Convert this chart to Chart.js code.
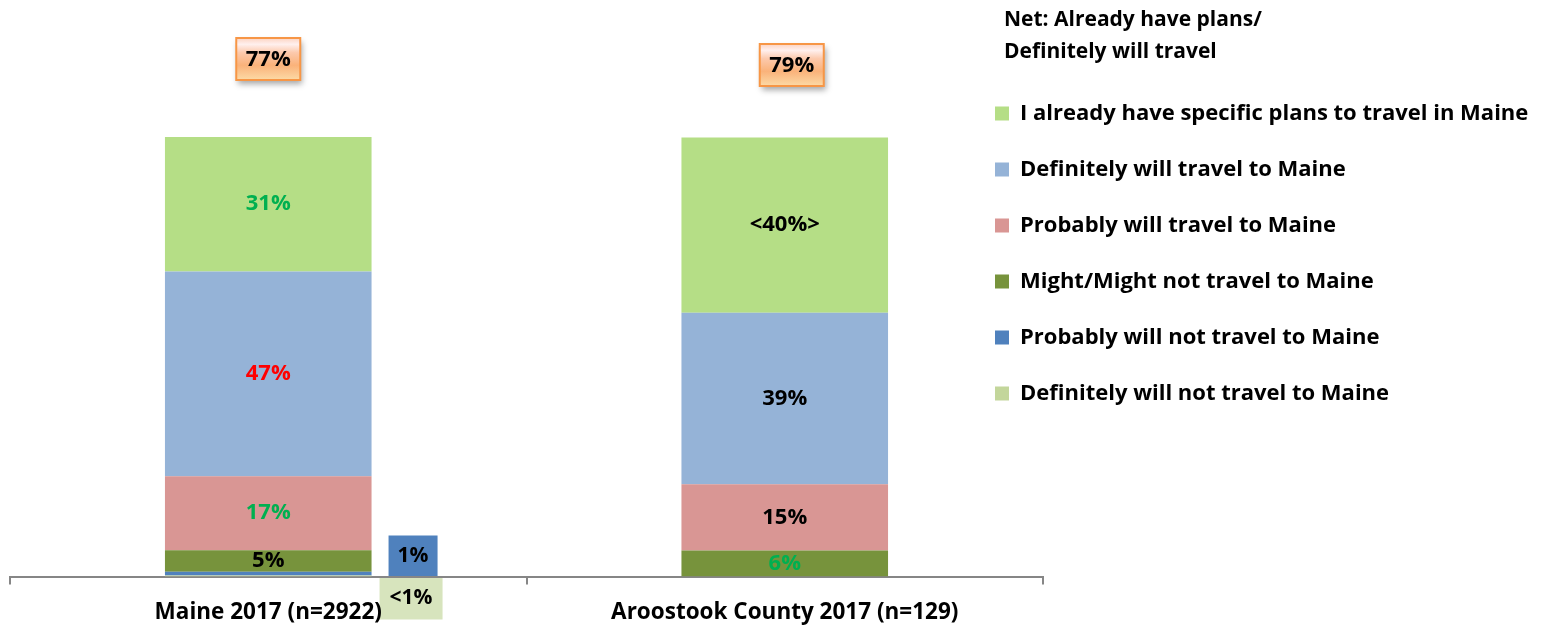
<!DOCTYPE html>
<html>
<head>
<meta charset="utf-8">
<title>Travel to Maine</title>
<script src="https://cdn.jsdelivr.net/npm/chart.js@4"></script>
<style>
html,body{margin:0;padding:0;background:#fff;}
</style>
</head>
<body>
<canvas id="myChart" width="1544" height="625"></canvas>
<script>
// categories and series (stack order bottom -> top)
const categories = ["Maine 2017 (n=2922)", "Aroostook County 2017 (n=129)"];
const netLabels = ["77%", "79%"];
const netTitle = ["Net: Already have plans/", "Definitely will travel"];

const defNotValues   = [0.2, 0];
const probNotValues  = [0.9, 0];
const mightValues    = [4.9, 5.9];
const probValues     = [16.8, 15.1];
const defValues      = [46.6, 39.0];
const alreadyValues  = [30.7, 39.9];

const defNotText   = ["<1%", ""];
const probNotText  = ["1%", ""];
const mightText    = ["5%", "6%"];
const probText     = ["17%", "15%"];
const defText      = ["47%", "39%"];
const alreadyText  = ["31%", "<40%>"];

const GREEN = "#00B050", RED = "#FF0000", BLACK = "#000000";
const FONT = "'Open Sans'";

const datasets = [
	{label: "Definitely will not travel to Maine", data: defNotValues, backgroundColor: "#C3D69B", txt: defNotText, txtColor: [BLACK, BLACK], callout: true},
	{label: "Probably will not travel to Maine", data: probNotValues, backgroundColor: "#4F81BD", txt: probNotText, txtColor: [BLACK, BLACK], callout: true},
	{label: "Might/Might not travel to Maine", data: mightValues, backgroundColor: "#77933C", txt: mightText, txtColor: [BLACK, GREEN]},
	{label: "Probably will travel to Maine", data: probValues, backgroundColor: "#D99694", txt: probText, txtColor: [GREEN, BLACK]},
	{label: "Definitely will travel to Maine", data: defValues, backgroundColor: "#95B3D7", txt: defText, txtColor: [RED, BLACK]},
	{label: "I already have specific plans to travel in Maine", data: alreadyValues, backgroundColor: "#B5DE86", txt: alreadyText, txtColor: [GREEN, BLACK]}
];

// small boxes that sit beside the Maine bar for the tiny segments
const calloutStyle = [
	{fill: "#D7E4BD", dx: 8, w: 63, top: 1, h: 42},
	{fill: "#4F81BD", dx: 17, w: 49, top: -41, h: 41}
];
const netBoxShift = [[0, 0], [7, 6]];

const labelPlugin = {
	id: 'labelPlugin',
	beforeLayout(chart) {
		// keep the legend column at a fixed width so the plot ends where the original does
		const lg = chart.legend;
		if (lg && !lg._fixed) {
			const fit = lg.fit;
			lg.fit = function() { fit.call(this); this.width = 501; };
			lg._fixed = true;
		}
	},
	afterLayout(chart) {
		const lg = chart.legend;
		lg.left = 995 - 34;
		lg.top = 68.5;
	},
	beforeDraw(chart) {
		const ctx = chart.ctx;
		const zero = chart.scales.y.getPixelForValue(0);
		ctx.save();
		ctx.font = "bold 21px " + FONT;
		ctx.textAlign = "center";
		ctx.textBaseline = "middle";
		[0, 1].forEach(i => {
			const ds = chart.data.datasets[i];
			const bar = chart.getDatasetMeta(i).data[0];
			const st = calloutStyle[i];
			const x = bar.x + bar.width / 2 + st.dx;
			const y = zero + st.top;
			ctx.fillStyle = st.fill;
			ctx.fillRect(x, y, st.w, st.h);
			ctx.fillStyle = BLACK;
			ctx.fillText(ds.txt[0], x + st.w / 2, y + st.h / 2);
		});
		ctx.restore();
	},
	afterDatasetsDraw(chart) {
		const ctx = chart.ctx;
		ctx.save();
		ctx.font = "bold 22px " + FONT;
		ctx.textAlign = "center";
		ctx.textBaseline = "middle";
		chart.data.datasets.forEach((ds, i) => {
			if (ds.callout) return;
			chart.getDatasetMeta(i).data.forEach((bar, j) => {
				if (!ds.txt[j]) return;
				ctx.fillStyle = ds.txtColor[j];
				ctx.fillText(ds.txt[j], bar.x, (bar.y + bar.base) / 2);
			});
		});
		ctx.restore();
	},
	afterDraw(chart) {
		const ctx = chart.ctx;
		const meta = chart.getDatasetMeta(5);
		ctx.save();
		// net boxes
		meta.data.forEach((bar, j) => {
			const w = 64, h = 42;
			const cx = bar.x + netBoxShift[j][0];
			const cy = 59 + netBoxShift[j][1];
			const x = cx - w / 2, y = cy - h / 2;
			ctx.save();
			ctx.shadowColor = "rgba(0,0,0,0.35)";
			ctx.shadowBlur = 6;
			ctx.shadowOffsetX = 2;
			ctx.shadowOffsetY = 4;
			const g = ctx.createLinearGradient(0, y, 0, y + h);
			g.addColorStop(0, "#FCD3C1");
			g.addColorStop(0.15, "#FFF0EE");
			g.addColorStop(0.35, "#FCC9AC");
			g.addColorStop(0.65, "#FAB27A");
			g.addColorStop(1, "#FCDAA6");
			ctx.fillStyle = g;
			ctx.fillRect(x, y, w, h);
			ctx.restore();
			ctx.strokeStyle = "#F79646";
			ctx.lineWidth = 2;
			ctx.strokeRect(x, y, w, h);
			ctx.fillStyle = BLACK;
			ctx.font = "bold 22px " + FONT;
			ctx.textAlign = "center";
			ctx.textBaseline = "middle";
			ctx.fillText(netLabels[j], cx, cy + 1);
		});
		// legend heading
		ctx.font = "bold 21px " + FONT;
		ctx.textAlign = "left";
		ctx.textBaseline = "middle";
		ctx.fillStyle = BLACK;
		ctx.fillText(netTitle[0], 1004, 20);
		ctx.fillText(netTitle[1], 1004, 52);
		ctx.restore();
	}
};

const ctx = document.getElementById('myChart');
const chart = new Chart(ctx, {
	type: 'bar',
	data: {
		labels: categories,
		datasets: datasets
	},
	options: {
		responsive: false,
		animation: false,
		devicePixelRatio: 1,
		layout: {
			padding: {top: 137, left: 10, bottom: -15.5, right: 0}
		},
		datasets: {
			bar: {categoryPercentage: 1, barPercentage: 0.4}
		},
		scales: {
			x: {
				stacked: true,
				offset: true,
				grid: {
					display: true,
					offset: true,
					drawOnChartArea: false,
					drawTicks: true,
					tickLength: 8,
					color: "#868686",
					lineWidth: 2
				},
				border: {display: true, color: "#868686", width: 2},
				ticks: {
					color: BLACK,
					padding: 14.5,
					maxRotation: 0,
					font: {family: FONT, size: 22.5, weight: 'bold', lineHeight: 1.2}
				}
			},
			y: {
				stacked: true,
				display: false,
				min: 0,
				max: 100
			}
		},
		plugins: {
			tooltip: {enabled: false},
			legend: {
				position: 'right',
				align: 'start',
				reverse: true,
				labels: {
					boxWidth: 14,
					boxHeight: 14,
					padding: 34,
					color: BLACK,
					font: {family: FONT, size: 22, weight: 'bold'}
				}
			}
		}
	},
	plugins: [labelPlugin]
});
</script>
</body>
</html>
